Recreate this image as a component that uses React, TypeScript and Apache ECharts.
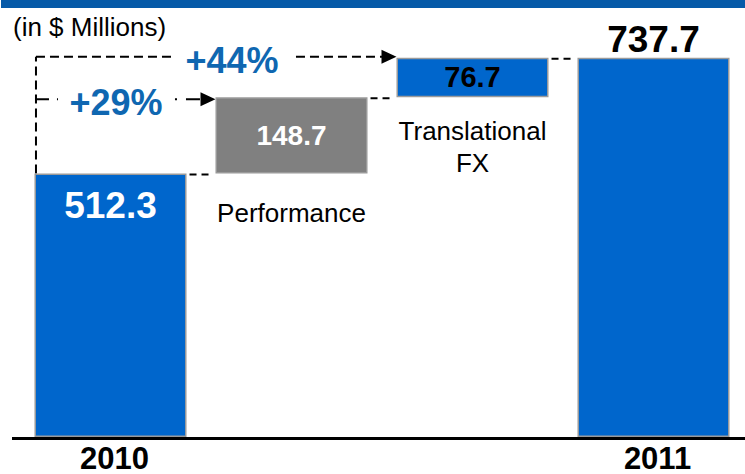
import React, { useEffect, useRef } from "react";
import * as echarts from "echarts";

const categories = ["2010", "Performance", "Translational FX", "2011"];
const baseValues = [0, 512.3, 661.0, 0];
const deltaValues = [512.3, 148.7, 76.7, 737.7];
const valueLabels = ["512.3", "148.7", "76.7", "737.7"];
const stepLabels = ["", "Performance", "Translational\nFX", ""];
const axisLabels = ["2010", "2011"];
const growthLabels = ["+29%", "+44%"];
const unitLabel = "(in $ Millions)";

const FONT = "'Liberation Sans', Arial, sans-serif";
const BLUE = "#0066CC";
const GRAY = "#808080";
const PCT = "#0F67B1";

export default function App() {
  const ref = useRef<HTMLDivElement>(null);
  useEffect(() => {
    if (!ref.current) return;
    const chart = echarts.init(ref.current, undefined, { renderer: "svg" });
    const barColors = [BLUE, GRAY, BLUE, BLUE];
    const valueLabelCfg = [
      { position: "insideTop", distance: 13, color: "#fff", fontSize: 37 },
      { position: "inside", color: "#fff", fontSize: 28 },
      { position: "inside", color: "#000", fontSize: 29 },
      { position: "top", distance: 0, color: "#000", fontSize: 37 },
    ];
    const option: any = {
      animation: false,
      grid: { left: 20, right: 1, top: 25.7, bottom: 33, containLabel: false },
      xAxis: {
        type: "category",
        data: categories,
        axisLine: { show: false },
        axisTick: { show: false },
        axisLabel: {
          interval: 0,
          margin: 6,
          padding: [0, 0, 0, 8],
          fontFamily: FONT,
          fontWeight: "bold",
          fontSize: 31,
          color: "#000",
          formatter: (v: string) => (axisLabels.includes(v) ? v : ""),
        },
      },
      yAxis: {
        type: "value",
        min: 0,
        max: 800,
        show: false,
        splitLine: { show: false },
      },
      series: [
        {
          type: "bar",
          stack: "w",
          barCategoryGap: "16%",
          data: baseValues.map((v, i) => ({
            value: v,
            label: {
              show: stepLabels[i] !== "",
              formatter: stepLabels[i],
              position: "insideTop",
              distance: i === 1 ? 23 : 18,
              fontFamily: FONT,
              fontSize: 26,
              lineHeight: 32,
              color: "#000",
            },
          })),
          itemStyle: { color: "transparent" },
          emphasis: { disabled: true },
          silent: true,
        },
        {
          type: "bar",
          stack: "w",
          barCategoryGap: "16%",
          data: deltaValues.map((v, i) => ({
            value: v,
            itemStyle: { color: barColors[i], borderColor: "#9a9a9a", borderWidth: 1.5 },
            label: {
              show: true,
              formatter: valueLabels[i],
              fontFamily: FONT,
              fontWeight: "bold",
              ...valueLabelCfg[i],
            },
          })),
          emphasis: { disabled: true },
          silent: true,
        },
      ],
    };
    chart.setOption(option);

    const px = (i: number, v: number) => chart.convertToPixel({ gridIndex: 0 }, [i, v]) as number[];
    const catW = px(1, 0)[0] - px(0, 0)[0];
    const bw = catW * 0.84;
    const xc = [0, 1, 2, 3].map((i) => px(i, 0)[0]);
    const y0 = px(0, 0)[1];
    const yA = px(0, deltaValues[0])[1];
    const yB = px(1, baseValues[2])[1];
    const yC = px(3, deltaValues[3])[1];
    const xv = xc[0] - bw / 2 + 1.5;
    const dash = { stroke: "#000", lineWidth: 2, lineDash: [9, 5] };
    const conn = { stroke: "#000", lineWidth: 2, lineDash: [7, 5] };
    const line = (x1: number, y1: number, x2: number, y2: number, style: any) => ({
      type: "line",
      shape: { x1, y1, x2, y2 },
      style,
      silent: true,
    });
    const arrow = (xt: number, y: number) => ({
      type: "polygon",
      shape: { points: [[xt, y], [xt - 15, y - 7], [xt - 15, y + 7]] },
      style: { fill: "#000" },
      silent: true,
    });
    const txt = (text: string, x: number, y: number, s: any) => ({
      type: "text",
      x,
      y,
      style: { text, fontFamily: FONT, ...s },
      silent: true,
    });
    const topY = yC - 1;
    const midY = yB + 2;
    const graphic: any[] = [
      { type: "rect", shape: { x: 1, y: 0, width: 744, height: 8 }, style: { fill: "#065AA8" }, silent: true },
      line(12, y0 + 1.5, 745, y0 + 1.5, { stroke: "#000", lineWidth: 3 }),
      txt(unitLabel, 13, 27, { fontSize: 26, fill: "#000", align: "left", verticalAlign: "middle" }),
      // connectors between steps
      line(xc[0] + bw / 2 + 3, yA + 1, xc[1] - bw / 2 - 3, yA + 1, conn),
      line(xc[1] + bw / 2 + 3, yB + 1, xc[2] - bw / 2 - 3, yB + 1, conn),
      line(xc[2] + bw / 2 + 3, yC + 1, xc[3] - bw / 2 - 3, yC + 1, conn),
      // vertical bracket
      line(xv, yA, xv, topY, dash),
      // top (+44%)
      line(xv, topY, xv + 140, topY, dash),
      line(xv + 260, topY, xc[2] - bw / 2 - 14, topY, dash),
      arrow(xc[2] - bw / 2, topY),
      txt(growthLabels[1], xv + 196, topY + 4, { fontSize: 36, fontWeight: "bold", fill: PCT, align: "center", verticalAlign: "middle" }),
      // middle (+29%)
      line(xv, midY, xv + 22, midY, { stroke: "#000", lineWidth: 2, lineDash: [13, 8, 2, 100] }),
      line(xv + 139, midY, xc[1] - bw / 2 - 14, midY, { stroke: "#000", lineWidth: 2, lineDash: [2, 9, 12, 0] }),
      arrow(xc[1] - bw / 2, midY),
      txt(growthLabels[0], xv + 80, midY + 3, { fontSize: 36, fontWeight: "bold", fill: PCT, align: "center", verticalAlign: "middle" }),
    ];
    chart.setOption({ graphic });
    return () => chart.dispose();
  }, []);
  return (
    <div
      ref={ref}
      style={{ position: "fixed", left: 0, top: 0, width: 745, height: 474, background: "#fff" }}
    />
  );
}
